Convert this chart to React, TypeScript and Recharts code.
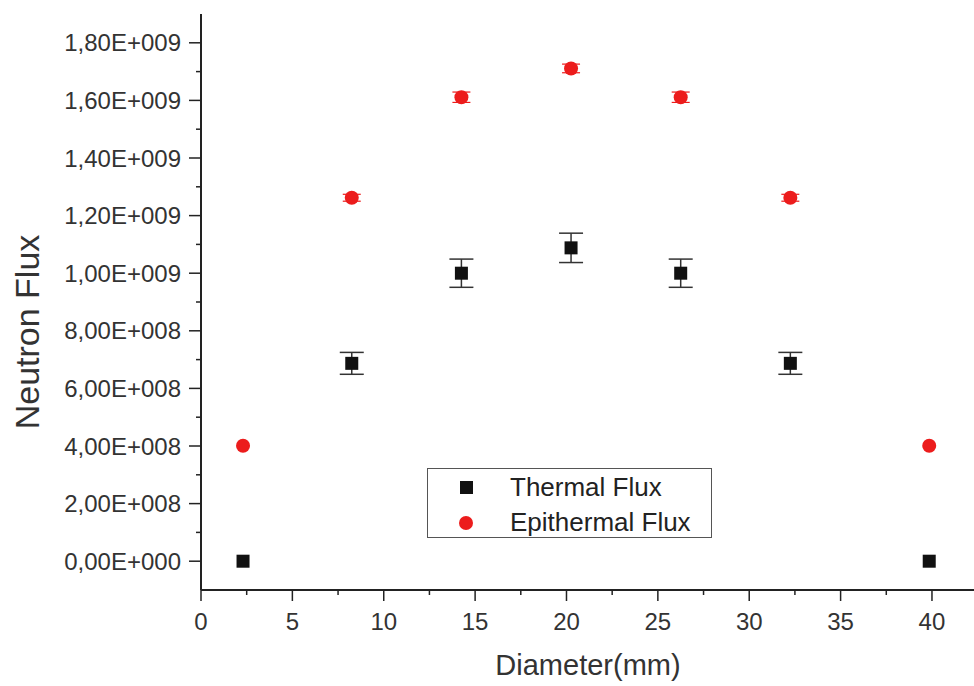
import { ScatterChart, Scatter, XAxis, YAxis, ErrorBar, Label, Legend } from 'recharts'

// Diameter positions (mm)
const diameters = [2.3, 8.25, 14.25, 20.25, 26.25, 32.25, 39.85]
const thermalFlux = [0, 6.87e8, 1.0e9, 1.088e9, 1.0e9, 6.87e8, 0]
const thermalErr = [0, 3.8e7, 4.9e7, 5.1e7, 4.9e7, 3.8e7, 0]
const epithermalFlux = [4.01e8, 1.262e9, 1.611e9, 1.711e9, 1.611e9, 1.262e9, 4.01e8]
const epithermalErr = [0, 1.2e7, 1.8e7, 1.5e7, 1.8e7, 1.2e7, 0]

const xTicks = [0, 2.5, 5, 7.5, 10, 12.5, 15, 17.5, 20, 22.5, 25, 27.5, 30, 32.5, 35, 37.5, 40]
const yTicks = [
  0, 1e8, 2e8, 3e8, 4e8, 5e8, 6e8, 7e8, 8e8, 9e8,
  1e9, 1.1e9, 1.2e9, 1.3e9, 1.4e9, 1.5e9, 1.6e9, 1.7e9, 1.8e9,
]

const thermalData = diameters.map((x, i) => ({ x, y: thermalFlux[i], err: thermalErr[i] }))
const epithermalData = diameters.map((x, i) => ({ x, y: epithermalFlux[i], err: epithermalErr[i] }))

const FONT = '"Liberation Sans", Arial, sans-serif'
const TEXT = '#333'
const AXIS = '#222'
const RED = '#ec1c1c'

function formatSci(v: number) {
  if (v === 0) return '0,00E+000'
  const exp = Math.floor(Math.log10(v) + 1e-9)
  const mant = (v / Math.pow(10, exp)).toFixed(2).replace('.', ',')
  return `${mant}E+${String(exp).padStart(3, '0')}`
}

function YTick(props: any) {
  const { x, y, payload } = props
  const major = Math.round(payload.value / 1e8) % 2 === 0
  return (
    <g>
      <line x1={x} y1={y} x2={x - (major ? 12 : 5)} y2={y} stroke={AXIS} strokeWidth={1.5} />
      {major && (
        <text x={x - 20} y={y} dy="0.355em" textAnchor="end" fontSize={24} fontFamily={FONT} fill={TEXT}>
          {formatSci(payload.value)}
        </text>
      )}
    </g>
  )
}

function XTick(props: any) {
  const { x, y, payload } = props
  const major = payload.value % 5 === 0
  return (
    <g>
      <line x1={x} y1={y} x2={x} y2={y + (major ? 11 : 5)} stroke={AXIS} strokeWidth={1.5} />
      {major && (
        <text x={x} y={y + 31} dy="0.355em" textAnchor="middle" fontSize={24} fontFamily={FONT} fill={TEXT}>
          {payload.value}
        </text>
      )}
    </g>
  )
}

function SquareShape(props: any) {
  const { cx, cy } = props
  return <rect x={cx - 6.5} y={cy - 6.5} width={13} height={13} fill="#111" />
}

function CircleShape(props: any) {
  const { cx, cy } = props
  return <circle cx={cx} cy={cy} r={7} fill={RED} />
}

function LegendBox() {
  return (
    <div
      style={{
        position: 'relative',
        width: 285,
        height: 70,
        boxSizing: 'border-box',
        border: '1px solid #555',
        background: '#fff',
        fontFamily: FONT,
        fontSize: 26,
        color: '#222',
      }}
    >
      <div style={{ position: 'absolute', left: 32, top: 12, width: 13, height: 13, background: '#111' }} />
      <div style={{ position: 'absolute', left: 82, top: 3, lineHeight: '30px' }}>Thermal Flux</div>
      <div style={{ position: 'absolute', left: 31, top: 47, width: 14, height: 14, borderRadius: 7, background: RED }} />
      <div style={{ position: 'absolute', left: 82, top: 38, lineHeight: '30px' }}>Epithermal Flux</div>
    </div>
  )
}

export default function App() {
  return (
    <div style={{ position: 'absolute', left: 0, top: 0, width: 974, height: 686, background: '#fff' }}>
      <ScatterChart width={974} height={686} margin={{ top: 14, right: 0, bottom: 0, left: 0 }}>
        <XAxis
          type="number"
          dataKey="x"
          domain={[0, 42.3]}
          ticks={xTicks}
          interval={0}
          allowDataOverflow
          height={96}
          tickSize={0}
          tickMargin={0}
          tickLine={false}
          tick={<XTick />}
          axisLine={{ stroke: AXIS, strokeWidth: 2 }}
        >
          <Label
            content={() => (
              <text x={588} y={665} dy="0.355em" textAnchor="middle" fontSize={29} fontFamily={FONT} fill={TEXT}>
                Diameter(mm)
              </text>
            )}
          />
        </XAxis>
        <YAxis
          type="number"
          dataKey="y"
          domain={[-1e8, 1.9e9]}
          ticks={yTicks}
          interval={0}
          allowDataOverflow
          width={201}
          tickSize={0}
          tickMargin={0}
          tickLine={false}
          tick={<YTick />}
          axisLine={{ stroke: AXIS, strokeWidth: 2 }}
        >
          <Label
            content={() => (
              <text
                x={27}
                y={332}
                dy="0.355em"
                textAnchor="middle"
                fontSize={34}
                fontFamily={FONT}
                fill={TEXT}
                transform="rotate(-90 27 332)"
              >
                Neutron Flux
              </text>
            )}
          />
        </YAxis>
        <Legend
          layout="vertical"
          align="center"
          verticalAlign="middle"
          wrapperStyle={{ left: 427, top: 468, width: 285, height: 70 }}
          content={() => <LegendBox />}
        />
        <Scatter name="Thermal Flux" data={thermalData} shape={<SquareShape />} isAnimationActive={false}>
          <ErrorBar dataKey="err" direction="y" width={12} stroke="#333" strokeWidth={1.5} />
        </Scatter>
        <Scatter name="Epithermal Flux" data={epithermalData} shape={<CircleShape />} isAnimationActive={false}>
          <ErrorBar dataKey="err" direction="y" width={9} stroke={RED} strokeWidth={1.2} />
        </Scatter>
      </ScatterChart>
    </div>
  )
}
